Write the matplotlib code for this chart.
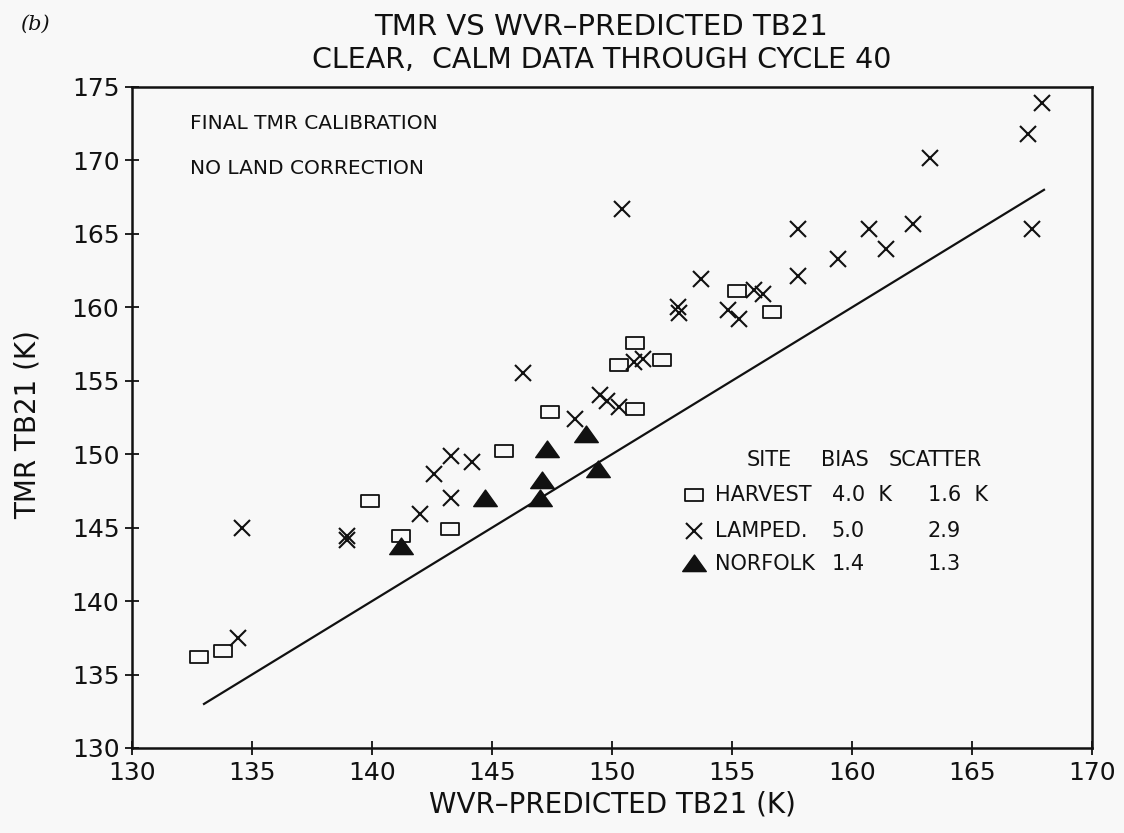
import numpy as np
import matplotlib
matplotlib.use('Agg')
import matplotlib.pyplot as plt
from matplotlib.path import Path

#site data (WVR-predicted TB21, TMR TB21) in K
harvest_x = [155.2, 156.65, 150.96, 150.3, 152.1, 150.96, 147.4, 145.5, 139.9, 143.25, 141.2, 133.8, 132.8]
harvest_y = [161.1, 159.7, 157.55, 156.1, 156.4, 153.1, 152.9, 150.2, 146.8, 144.9, 144.4, 136.6, 136.2]

lamped_x = [167.9, 167.35, 163.25, 150.4, 157.76, 160.7, 162.55, 167.5, 161.4, 159.4, 157.76, 153.7,
            155.9, 156.3, 152.76, 152.8, 154.85, 155.3, 150.9, 151.3, 149.5, 149.8, 150.3, 146.3,
            148.46, 143.3, 144.15, 142.6, 143.3, 142.0, 134.6, 138.95, 138.95, 134.4]
lamped_y = [173.9, 171.8, 170.2, 166.7, 165.3, 165.3, 165.65, 165.3, 164.0, 163.3, 162.1, 161.9,
            161.2, 160.9, 160.05, 159.6, 159.8, 159.2, 156.3, 156.5, 154.0, 153.6, 153.2, 155.5,
            152.4, 149.9, 149.5, 148.65, 147.05, 145.9, 144.95, 144.4, 144.15, 137.5]

norfolk_x = [148.9, 147.3, 149.4, 147.1, 147.0, 144.7, 141.2]
norfolk_y = [151.3, 150.3, 148.9, 148.2, 146.95, 146.95, 143.7]

#one-to-one reference line
line_x = [133, 168]

#legend table
sites = ['HARVEST', 'LAMPED.', 'NORFOLK']
bias = ['4.0  K', '5.0', '1.4']
scatter = ['1.6  K', '2.9', '1.3']

ticks = [130, 135, 140, 145, 150, 155, 160, 165, 170, 175]

ink = '#111111'
paper = '#f8f8f8'
plt.rcParams['font.family'] = ['DejaVu Sans']

#wide open box and flat triangle like the original plotter symbols
box = Path([(-1.5, -1), (1.5, -1), (1.5, 1), (-1.5, 1), (-1.5, -1)],
           [Path.MOVETO, Path.LINETO, Path.LINETO, Path.LINETO, Path.CLOSEPOLY])
tri = Path([(0, 0.8), (-1, -0.6), (1, -0.6), (0, 0.8)],
           [Path.MOVETO, Path.LINETO, Path.LINETO, Path.CLOSEPOLY])

fig = plt.figure(figsize=(11.24, 8.33), dpi=100, facecolor=paper)
ax = fig.add_axes([132/1124, 1-748/833, 960/1124, 661/833])
ax.set_facecolor(paper)

ax.plot(line_x, line_x, color=ink, lw=1.6)
ax.plot(harvest_x, harvest_y, ls='none', marker=box, ms=13, mfc='none', mec=ink, mew=1.3)
ax.plot(lamped_x, lamped_y, ls='none', marker='x', ms=12, mec=ink, mew=1.5)
ax.plot(norfolk_x, norfolk_y, ls='none', marker=tri, ms=17, mfc=ink, mec=ink)

ax.set_xlim(130, 170)
ax.set_ylim(130, 175)
ax.set_xticks(ticks[:-1])
ax.set_yticks(ticks)
ax.tick_params(direction='inout', length=10, width=1.3, colors=ink, labelsize=18, pad=4)
for s in ax.spines.values():
    s.set_linewidth(1.8)
    s.set_color(ink)

ax.set_xlabel('WVR\u2013PREDICTED TB21 (K)', fontsize=20, color=ink, labelpad=4)
ax.set_ylabel('TMR TB21 (K)', fontsize=20, color=ink)
ax.yaxis.set_label_coords(-0.094, 0.49)

fig.text(0.535, 1-27/833, 'TMR VS WVR\u2013PREDICTED TB21', ha='center', va='center', fontsize=21, color=ink)
fig.text(0.535, 1-60/833, 'CLEAR,  CALM DATA THROUGH CYCLE 40', ha='center', va='center', fontsize=20.5, color=ink)
fig.text(20/1124, 1-24/833, '(b)', ha='left', va='center', fontsize=15, style='italic',
         family='DejaVu Serif', color=ink)

ax.text(0.06, 0.945, 'FINAL TMR CALIBRATION', transform=ax.transAxes, fontsize=14.5, color=ink, va='center')
ax.text(0.06, 0.876, 'NO LAND CORRECTION', transform=ax.transAxes, fontsize=14.5, color=ink, va='center')

#legend table
rows_y = [0.382, 0.329, 0.279]
ax.text(0.64, 0.435, 'SITE', transform=ax.transAxes, fontsize=15, color=ink, va='center')
ax.text(0.718, 0.435, 'BIAS', transform=ax.transAxes, fontsize=15, color=ink, va='center')
ax.text(0.788, 0.435, 'SCATTER', transform=ax.transAxes, fontsize=15, color=ink, va='center')
ax.plot([0.585], [rows_y[0]], transform=ax.transAxes, marker=box, ms=13, mfc='none', mec=ink, mew=1.3)
ax.plot([0.585], [rows_y[1]], transform=ax.transAxes, marker='x', ms=12, mec=ink, mew=1.5)
ax.plot([0.585], [rows_y[2]], transform=ax.transAxes, marker=tri, ms=17, mfc=ink, mec=ink)
for i in range(3):
    ax.text(0.607, rows_y[i], sites[i], transform=ax.transAxes, fontsize=15, color=ink, va='center')
    ax.text(0.729, rows_y[i], bias[i], transform=ax.transAxes, fontsize=15, color=ink, va='center')
    ax.text(0.829, rows_y[i], scatter[i], transform=ax.transAxes, fontsize=15, color=ink, va='center')

fig.savefig('out.png', dpi=100, facecolor=paper)
